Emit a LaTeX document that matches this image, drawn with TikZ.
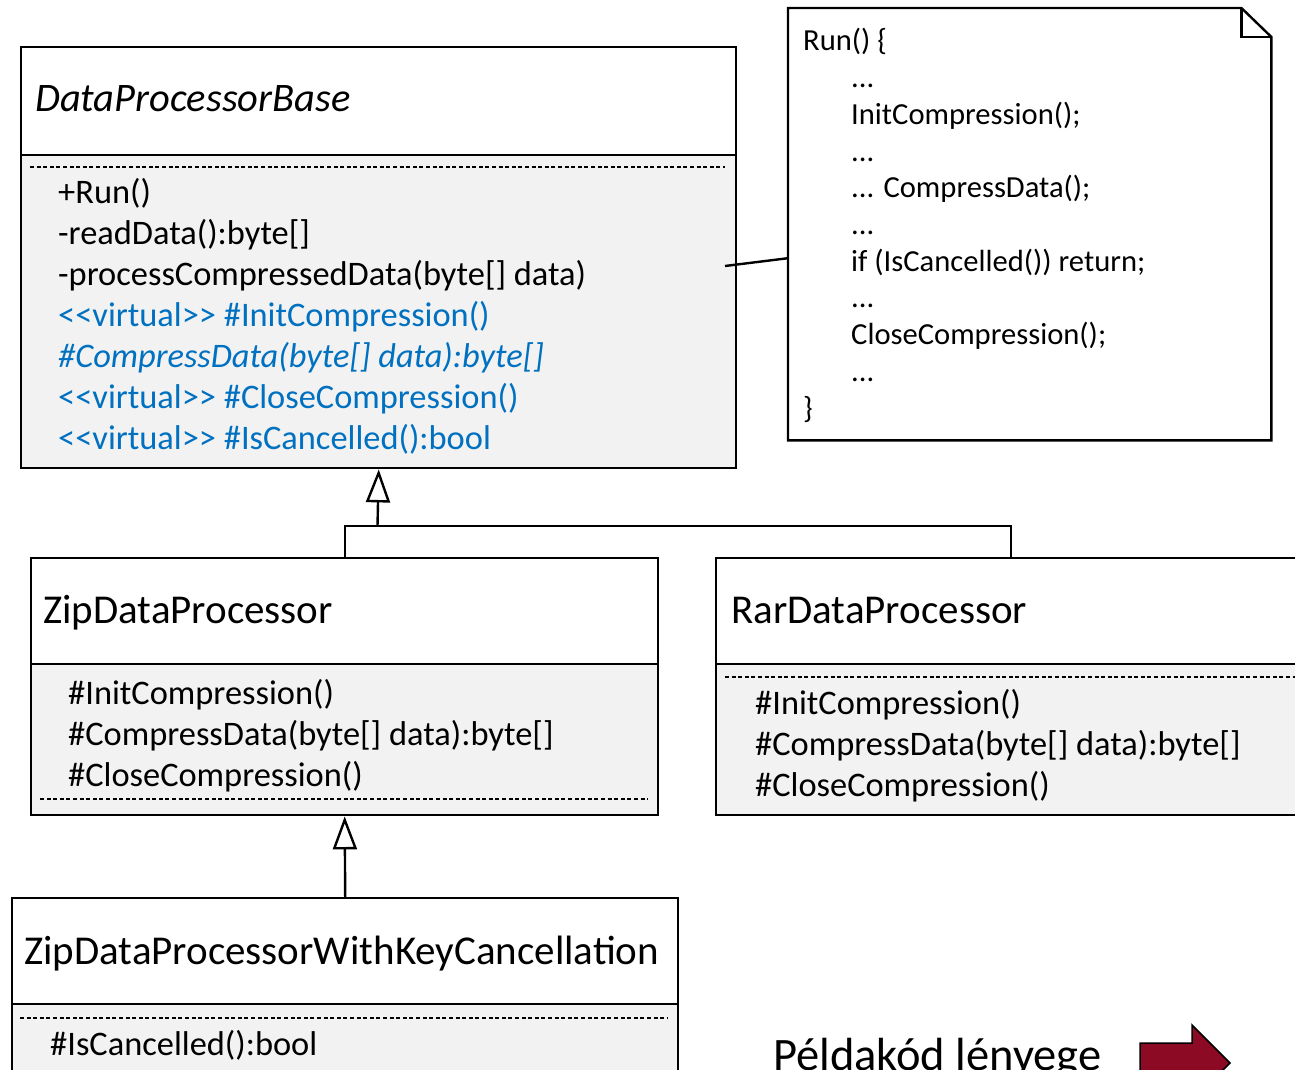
\documentclass[tikz,border=0pt]{standalone}
\usepackage{fontspec}
\setmainfont{Carlito}
\usetikzlibrary{arrows.meta}

\definecolor{umlblue}{HTML}{0070C0}
\definecolor{compfill}{HTML}{F2F2F2}
\definecolor{navred}{HTML}{8C0A24}

\newcommand{\stereo}[1]{<{}<#1>{}>}

\tikzset{
  cbox/.style={draw=black, line width=2.4pt, inner sep=0pt, anchor=north west},
  titlepart/.style={cbox, fill=white},
  opspart/.style={cbox, fill=compfill},
  sepline/.style={draw=black, line width=1.3pt, dash pattern=on 4pt off 2.6pt},
  classname/.style={anchor=base west, inner sep=0pt, font=\fontsize{41}{49}\selectfont},
  member/.style={anchor=base west, inner sep=0pt, font=\fontsize{34.4}{41}\selectfont},
  notetext/.style={anchor=base west, inner sep=0pt, font=\fontsize{30.6}{37}\selectfont},
  virt/.style={member, text=umlblue},
  link/.style={draw=black, line width=2.4pt},
  inherit/.style={link, -{Triangle[open, length=33pt, width=24pt, line width=2.4pt]}},
}

\begin{document}
\begin{tikzpicture}[x=1pt, y=-1pt, line join=miter]
\useasboundingbox (0,0) rectangle (1295,1070);

% ---------- DataProcessorBase ----------
\node[titlepart, minimum width=715pt, minimum height=108pt] (baseT) at (20,46) {};
\node[opspart, minimum width=715pt, minimum height=313pt] (baseC) at (20,154) {};
\draw[sepline] (30,167) -- (725,167);
\node[classname, font=\fontsize{40.5}{49}\selectfont\itshape] (baseN) at (35,112) {DataProcessorBase};
\node[member] (b1) at (58,203) {+Run()};
\node[member] (b2) at (58,244) {-readData():byte[]};
\node[member] (b3) at (58,285) {-processCompressedData(byte[] data)};
\node[virt] (b4) at (58,326) {\stereo{virtual} \#InitCompression()};
\node[virt, font=\fontsize{34.4}{41}\selectfont\itshape] (b5) at (58,367) {\#CompressData(byte[] data):byte[]};
\node[virt] (b6) at (58,408) {\stereo{virtual} \#CloseCompression()};
\node[virt] (b7) at (58,449) {\stereo{virtual} \#IsCancelled():bool};

% ---------- note with the Run() body ----------
\node[inner sep=0pt, anchor=north west, minimum width=483pt, minimum height=432pt] (note) at (788,8) {};
\draw[link, fill=white]
  (note.north west) -- ([xshift=-30pt]note.north east)
  -- ([yshift=-29pt]note.north east) -- (note.south east)
  -- (note.south west) -- cycle;
\draw[link]
  ([xshift=-30pt]note.north east) -- ([xshift=-30pt, yshift=-29pt]note.north east)
  -- ([yshift=-29pt]note.north east);
\node[notetext] (n1) at (803,51) {Run() \{};
\node[notetext] (n2) at (851,87.7) {...};
\node[notetext] (n3) at (851,124.4) {InitCompression();};
\node[notetext] (n4) at (851,161.1) {...};
\node[notetext] (n5) at (851,197.8) {... CompressData();};
\node[notetext] (n6) at (851,234.5) {...};
\node[notetext] (n7) at (851,271.2) {if (IsCancelled()) return;};
\node[notetext] (n8) at (851,307.9) {...};
\node[notetext] (n9) at (851,344.6) {CloseCompression();};
\node[notetext] (n10) at (851,381.3) {...};
\node[notetext] (n11) at (803,418) {\}};
\coordinate (runref) at (725,266);
\draw[link] (runref) -- ([yshift=-34pt]note.west);

% ---------- ZipDataProcessor ----------
\node[titlepart, minimum width=627pt, minimum height=106pt] (zipT) at (30,557) {};
\node[opspart, minimum width=627pt, minimum height=151pt] (zipC) at (30,663) {};
\draw[sepline] (40,799) -- (648,799);
\node[classname] (zipN) at (43,623) {ZipDataProcessor};
\node[member] (z1) at (68,704) {\#InitCompression()};
\node[member] (z2) at (68,745) {\#CompressData(byte[] data):byte[]};
\node[member] (z3) at (68,786) {\#CloseCompression()};

% ---------- RarDataProcessor ----------
\node[titlepart, minimum width=590pt, minimum height=106pt] (rarT) at (715,557) {};
\node[opspart, minimum width=590pt, minimum height=151pt] (rarC) at (715,663) {};
\draw[sepline] (725,677) -- (1300,677);
\node[classname] (rarN) at (731,623) {RarDataProcessor};
\node[member] (r1) at (755,714) {\#InitCompression()};
\node[member] (r2) at (755,755) {\#CompressData(byte[] data):byte[]};
\node[member] (r3) at (755,796) {\#CloseCompression()};

% ---------- ZipDataProcessorWithKeyCancellation ----------
\node[titlepart, minimum width=666pt, minimum height=106pt] (keyT) at (11,897) {};
\node[opspart, minimum width=666pt, minimum height=120pt] (keyC) at (11,1003) {};
\draw[sepline] (20,1018) -- (667,1018);
\node[classname] (keyN) at (24,964) {ZipDataProcessorWithKeyCancellation};
\node[member] (k1) at (50,1055) {\#IsCancelled():bool};

% ---------- generalisations ----------
\coordinate (fork) at (377.5,526);
\draw[link] (zipT.north) |- (fork);
\draw[link] (rarT.north) |- (fork);
\draw[inherit] (fork) -- (baseC.south);
\draw[inherit] (keyT.north) -- (zipC.south);

% ---------- footer ----------
\node[anchor=base west, inner sep=0pt, font=\fontsize{46.5}{56}\selectfont] (footer) at (773,1070) {Példakód lényege};
\draw[draw=black, line width=1.5pt, fill=navred]
  (1140,1043) -- (1192,1043) -- (1192,1025) -- (1230,1063)
  -- (1192,1101) -- (1192,1083) -- (1140,1083) -- cycle;
\end{tikzpicture}
\end{document}
